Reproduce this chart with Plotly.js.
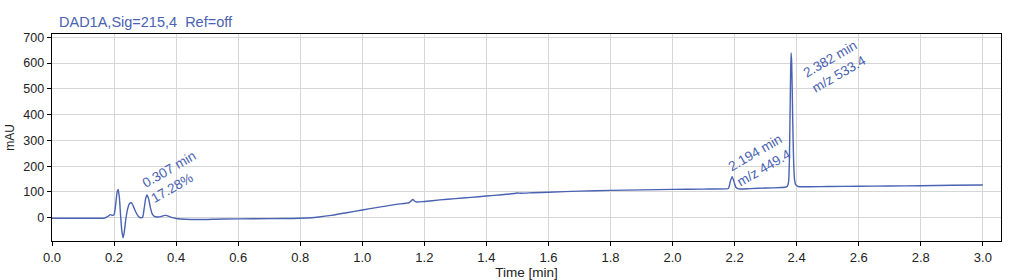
<!DOCTYPE html>
<html>
<head>
<meta charset="utf-8">
<script src="https://cdn.plot.ly/plotly-3.0.1.min.js"></script>
<style>html,body{margin:0;padding:0;background:#fff;}#chart{width:1012px;height:280px;}</style>
</head>
<body>
<div id="chart"></div>
<script>
var timeMin = [
  0.00, 0.05, 0.10, 0.15, 0.17, 0.180, 0.188, 0.195, 0.200, 0.205, 0.210, 0.213, 0.217, 0.221, 0.225, 0.229, 0.233, 0.238,
  0.244, 0.250, 0.256, 0.262, 0.270, 0.278, 0.286, 0.292, 0.297, 0.302, 0.306, 0.311, 0.317, 0.323, 0.330, 0.340, 0.350,
  0.360, 0.367, 0.375, 0.385, 0.40, 0.43, 0.47, 0.55, 0.65, 0.75, 0.82, 0.86, 0.90, 0.95, 1.00, 1.05, 1.10, 1.14, 1.150,
  1.158, 1.163, 1.168, 1.175, 1.20, 1.25, 1.30, 1.35, 1.40, 1.45, 1.49, 1.50, 1.51, 1.55, 1.60, 1.70, 1.80, 1.90, 2.00,
  2.10, 2.17, 2.180, 2.186, 2.192, 2.198, 2.204, 2.212, 2.25, 2.30, 2.35, 2.362, 2.370, 2.374, 2.377, 2.380, 2.382, 2.384,
  2.387, 2.390, 2.393, 2.397, 2.405, 2.42, 2.50, 2.60, 2.70, 2.80, 2.90, 3.00
];
var signalMAU = [
  -2, -2, -2, -2, -1, 5, 12, 9, 12, 50, 100, 110, 80, 10, -50, -78, -55, -5,
  35, 55, 58, 45, 22, 6, 0, 2, 35, 75, 88, 75, 40, 15, 5, 3, 4,
  8, 9, 6, 1, -3, -6, -7, -5, -4, -3, -1, 3, 9, 19, 30, 40, 50, 56, 58,
  66, 71, 65, 61, 63, 69, 74, 79, 84, 89, 94, 96, 95, 97, 99, 103, 106, 108, 110,
  111, 112, 113, 140, 159, 140, 118, 112, 113, 115, 117, 118, 122, 140, 250, 520, 640, 600,
  400, 230, 150, 128, 121, 120, 121, 122, 123, 124, 126, 127
];
var peakLabels = ["0.307 min<br>17.28%", "2.194 min<br>m/z 449.4", "2.382 min<br>m/z 533.4"];
var peakLabelX = [0.390, 2.281, 2.524];
var peakLabelY = [156, 222, 586];
var xTicks = [0.0, 0.2, 0.4, 0.6, 0.8, 1.0, 1.2, 1.4, 1.6, 1.8, 2.0, 2.2, 2.4, 2.6, 2.8, 3.0];
var yTicks = [0, 100, 200, 300, 400, 500, 600, 700];

var blue = '#4a62b2';
var font = 'Liberation Sans, Arial, sans-serif';

var annotations = peakLabels.map(function (t, i) {
  return {
    x: peakLabelX[i], y: peakLabelY[i], xref: 'x', yref: 'y',
    text: t, showarrow: false, textangle: -30, align: 'left',
    xanchor: 'center', yanchor: 'middle',
    font: {family: font, size: 13.5, color: blue}
  };
});

var trace = {
  x: timeMin, y: signalMAU, type: 'scatter', mode: 'lines',
  line: {color: blue, width: 1.4, shape: 'spline', smoothing: 0.6},
  hoverinfo: 'none'
};

var layout = {
  width: 1012, height: 280,
  margin: {l: 52, r: 11, t: 34, b: 39, pad: 0},
  paper_bgcolor: '#fff', plot_bgcolor: '#fff',
  showlegend: false,
  font: {family: font, size: 12, color: '#222'},
  title: {text: 'DAD1A,Sig=215,4  Ref=off', x: 59 / 1012, xanchor: 'left', xref: 'container',
          y: 1 - 22 / 280, yanchor: 'middle', yref: 'container',
          font: {family: font, size: 14.5, color: blue}},
  xaxis: {
    range: [0, 3.0586], tickvals: xTicks, ticktext: xTicks.map(function (v) { return v.toFixed(1); }),
    showgrid: true, gridcolor: '#d6d6d6', gridwidth: 1, zeroline: false,
    showline: true, linecolor: '#000', linewidth: 1.3, mirror: true,
    ticks: 'outside', ticklen: 4, tickcolor: '#000',
    tickfont: {family: font, size: 13, color: '#222'},
    title: {text: 'Time [min]', standoff: 1, font: {family: font, size: 13.5, color: '#222'}}
  },
  yaxis: {
    range: [-90.4, 712.8], tickvals: yTicks,
    showgrid: true, gridcolor: '#d6d6d6', gridwidth: 1, zeroline: false,
    showline: true, linecolor: '#000', linewidth: 1.3, mirror: true,
    ticks: 'outside', ticklen: 4, tickcolor: '#000',
    tickfont: {family: font, size: 12.5, color: '#222'},
    title: {text: 'mAU', standoff: 6, font: {family: font, size: 12, color: '#222'}}
  },
  annotations: annotations
};

Plotly.newPlot('chart', [trace], layout, {staticPlot: true, displayModeBar: false});
</script>
</body>
</html>
